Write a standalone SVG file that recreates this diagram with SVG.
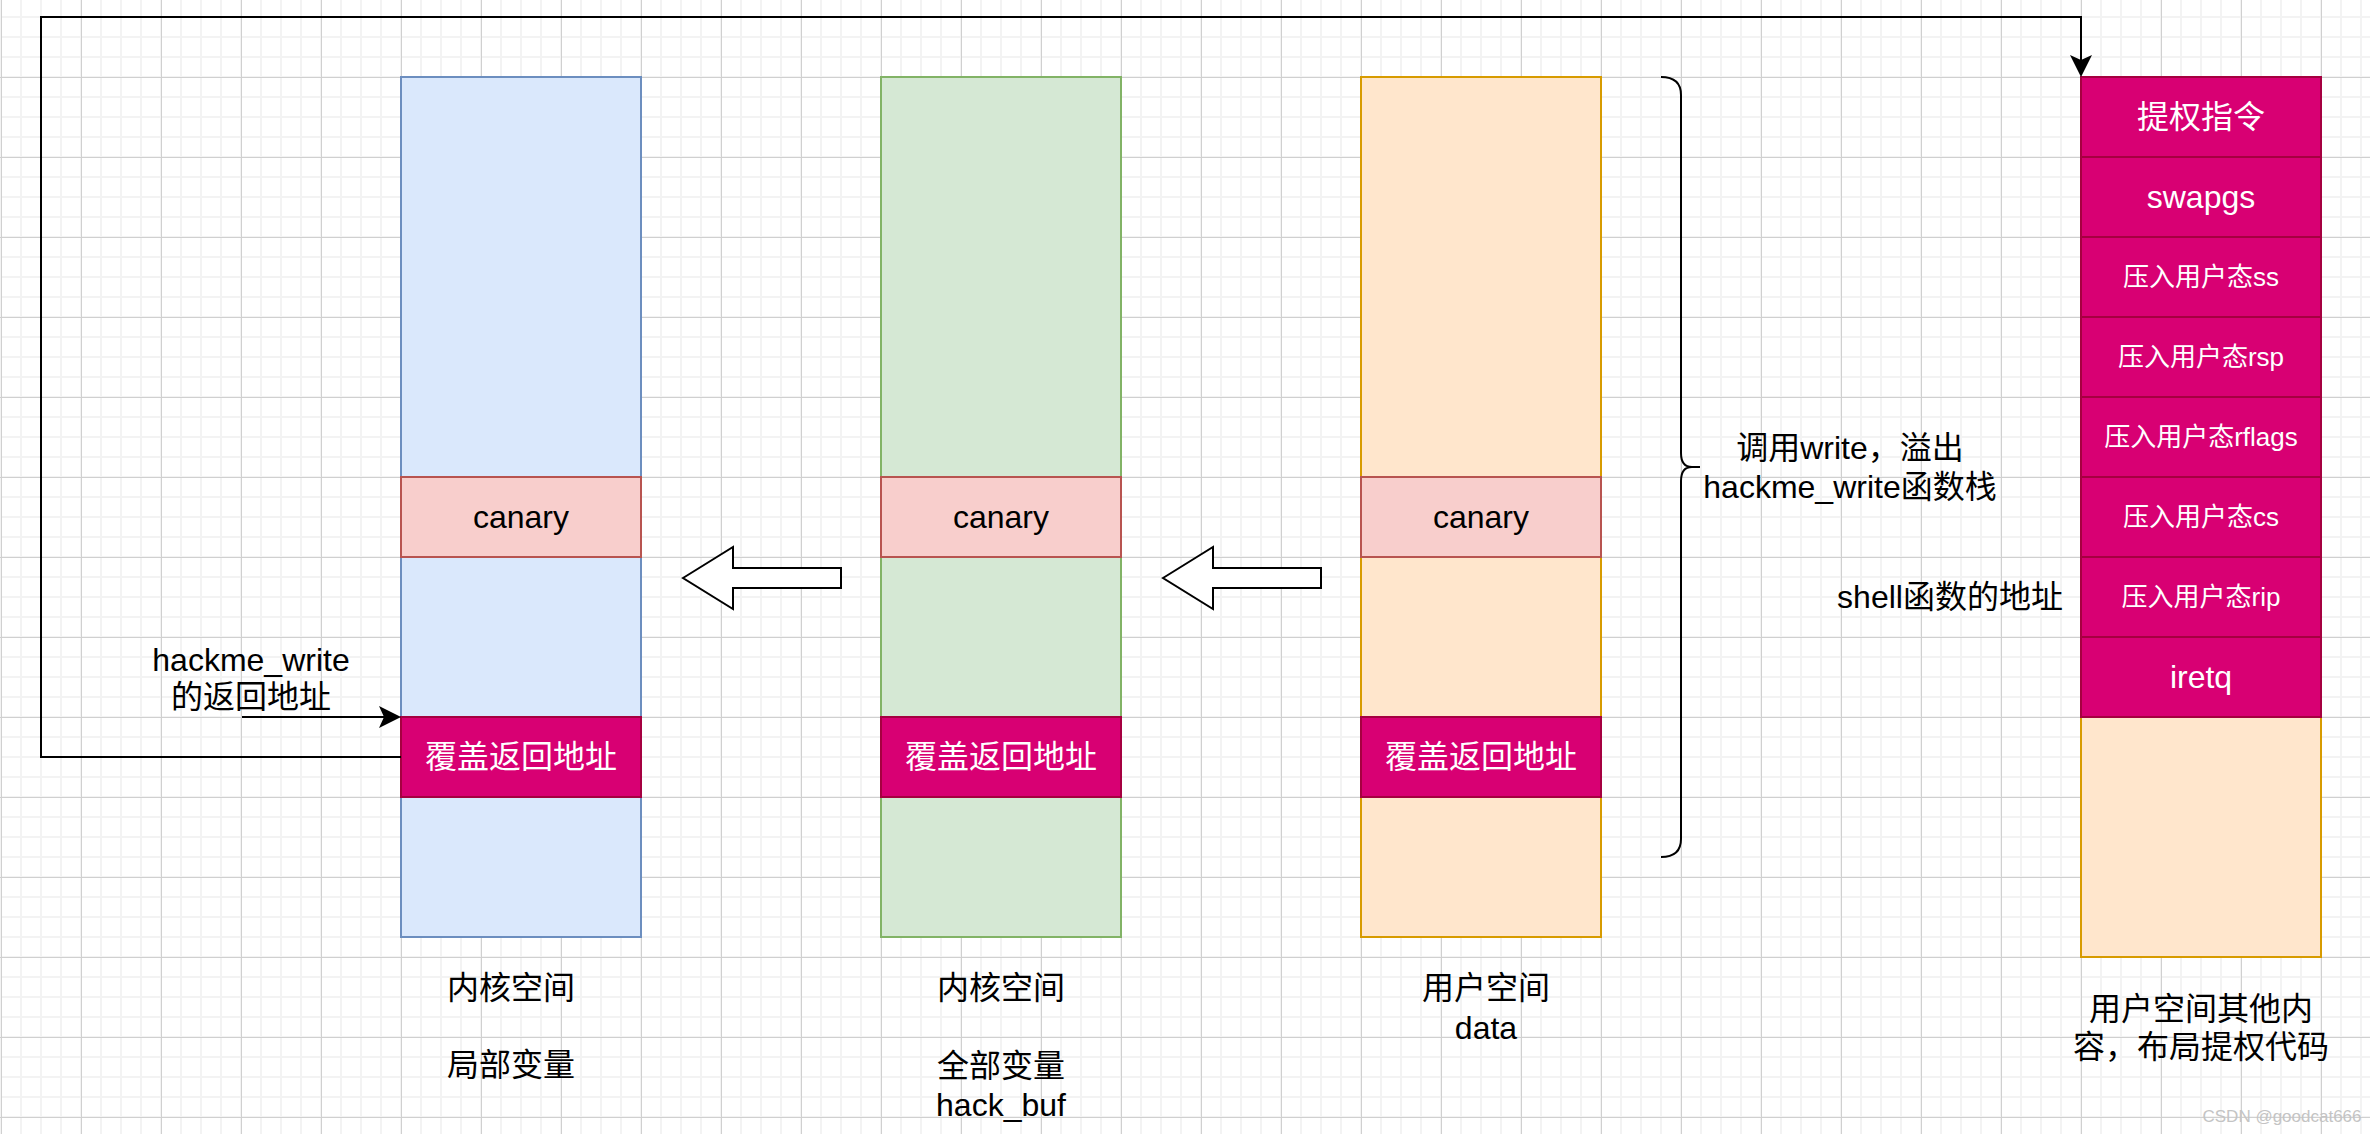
<svg xmlns="http://www.w3.org/2000/svg" width="2370" height="1134" viewBox="0 0 2370 1134">
<style>
text{font-family:"Liberation Sans","Noto Sans CJK SC",sans-serif;text-anchor:middle;dominant-baseline:central;}
.t32{font-size:32px;fill:#000;}
.w32{font-size:32px;fill:#fff;}
.w26{font-size:26px;fill:#fff;}
.blue{fill:#dae8fc;stroke:#6c8ebf;stroke-width:2;}
.green{fill:#d5e8d4;stroke:#82b366;stroke-width:2;}
.orange{fill:#ffe6cc;stroke:#d79b00;stroke-width:2;}
.red{fill:#f8cecc;stroke:#b85450;stroke-width:2;}
.mag{fill:#d80073;stroke:#a50040;stroke-width:2;}
.edge{fill:none;stroke:#000;stroke-width:2;}
.hollow{fill:#fff;stroke:#000;stroke-width:2;stroke-linejoin:miter;}
</style>
<defs>
<pattern id="grid" x="0" y="-4" width="80" height="80" patternUnits="userSpaceOnUse">
<rect width="80" height="80" fill="#fff"/>
<g fill="#f3f3f3">
<rect x="0" y="0" width="2" height="80"/><rect x="20" y="0" width="2" height="80"/><rect x="40" y="0" width="2" height="80"/><rect x="60" y="0" width="2" height="80"/>
<rect x="0" y="0" width="80" height="2"/><rect x="0" y="20" width="80" height="2"/><rect x="0" y="40" width="80" height="2"/><rect x="0" y="60" width="80" height="2"/>
</g>
<g fill="#d0d0d0">
<rect x="1" y="0" width="1" height="80"/><rect x="0" y="1" width="80" height="1"/>
</g>
</pattern>
<marker id="arrow" markerUnits="userSpaceOnUse" markerWidth="24" markerHeight="24" viewBox="0 0 24 24" refX="5" refY="12" orient="auto">
<path d="M0,1 L22,12 L0,23 L5,12 Z" fill="#000"/>
</marker>
</defs>
<rect width="2370" height="1134" fill="url(#grid)"/>

<g id="col-kernel-local">
<rect class="blue" x="401" y="77" width="240" height="860"/>
<rect class="red" x="401" y="477" width="240" height="80"/>
<text class="t32" x="521" y="517">canary</text>
<rect class="mag" x="401" y="717" width="240" height="80"/>
<text class="w32" x="521" y="757">覆盖返回地址</text>
</g>

<g id="col-kernel-global">
<rect class="green" x="881" y="77" width="240" height="860"/>
<rect class="red" x="881" y="477" width="240" height="80"/>
<text class="t32" x="1001" y="517">canary</text>
<rect class="mag" x="881" y="717" width="240" height="80"/>
<text class="w32" x="1001" y="757">覆盖返回地址</text>
</g>

<g id="col-user-data">
<rect class="orange" x="1361" y="77" width="240" height="860"/>
<rect class="red" x="1361" y="477" width="240" height="80"/>
<text class="t32" x="1481" y="517">canary</text>
<rect class="mag" x="1361" y="717" width="240" height="80"/>
<text class="w32" x="1481" y="757">覆盖返回地址</text>
</g>

<g id="col-user-other">
<rect class="orange" x="2081" y="77" width="240" height="880"/>
<rect class="mag" x="2081" y="77" width="240" height="80"/>
<text class="w32" x="2201" y="117">提权指令</text>
<rect class="mag" x="2081" y="157" width="240" height="80"/>
<text class="w32" x="2201" y="197">swapgs</text>
<rect class="mag" x="2081" y="237" width="240" height="80"/>
<text class="w26" x="2201" y="277">压入用户态ss</text>
<rect class="mag" x="2081" y="317" width="240" height="80"/>
<text class="w26" x="2201" y="357">压入用户态rsp</text>
<rect class="mag" x="2081" y="397" width="240" height="80"/>
<text class="w26" x="2201" y="437">压入用户态rflags</text>
<rect class="mag" x="2081" y="477" width="240" height="80"/>
<text class="w26" x="2201" y="517">压入用户态cs</text>
<rect class="mag" x="2081" y="557" width="240" height="80"/>
<text class="w26" x="2201" y="597">压入用户态rip</text>
<rect class="mag" x="2081" y="637" width="240" height="80"/>
<text class="w32" x="2201" y="677">iretq</text>
</g>

<g id="brace">
<path class="edge" d="M1661,77 Q1681,77 1681,95 L1681,453 Q1681,467 1692,467 L1700,467 M1692,467 Q1681,467 1681,481 L1681,839 Q1681,857 1661,857"/>
<text class="t32" x="1850" y="448">调用write，溢出</text>
<text class="t32" x="1850" y="487">hackme_write函数栈</text>
</g>

<g id="labels">
<text class="t32" x="251" y="660">hackme_write</text>
<text class="t32" x="251" y="697">的返回地址</text>
<text class="t32" x="1950" y="597">shell函数的地址</text>
<text class="t32" x="511" y="988">内核空间</text>
<text class="t32" x="511" y="1065">局部变量</text>
<text class="t32" x="1001" y="988">内核空间</text>
<text class="t32" x="1001" y="1066">全部变量</text>
<text class="t32" x="1001" y="1105">hack_buf</text>
<text class="t32" x="1486" y="988">用户空间</text>
<text class="t32" x="1486" y="1028">data</text>
<text class="t32" x="2201" y="1009">用户空间其他内</text>
<text class="t32" x="2201" y="1047">容，布局提权代码</text>
<text x="2282" y="1116" style="font-size:17px;fill:#c4c4c4;">CSDN @goodcat666</text>
</g>

<g id="connectors">
<path class="edge" d="M242,717 L384,717" marker-end="url(#arrow)"/>
<path class="edge" d="M401,757 L41,757 L41,17 L2081,17 L2081,60" marker-end="url(#arrow)"/>
<polygon class="hollow" points="683,578 733,547 733,568 841,568 841,588 733,588 733,609"/>
<polygon class="hollow" points="1163,578 1213,547 1213,568 1321,568 1321,588 1213,588 1213,609"/>
</g>
</svg>
